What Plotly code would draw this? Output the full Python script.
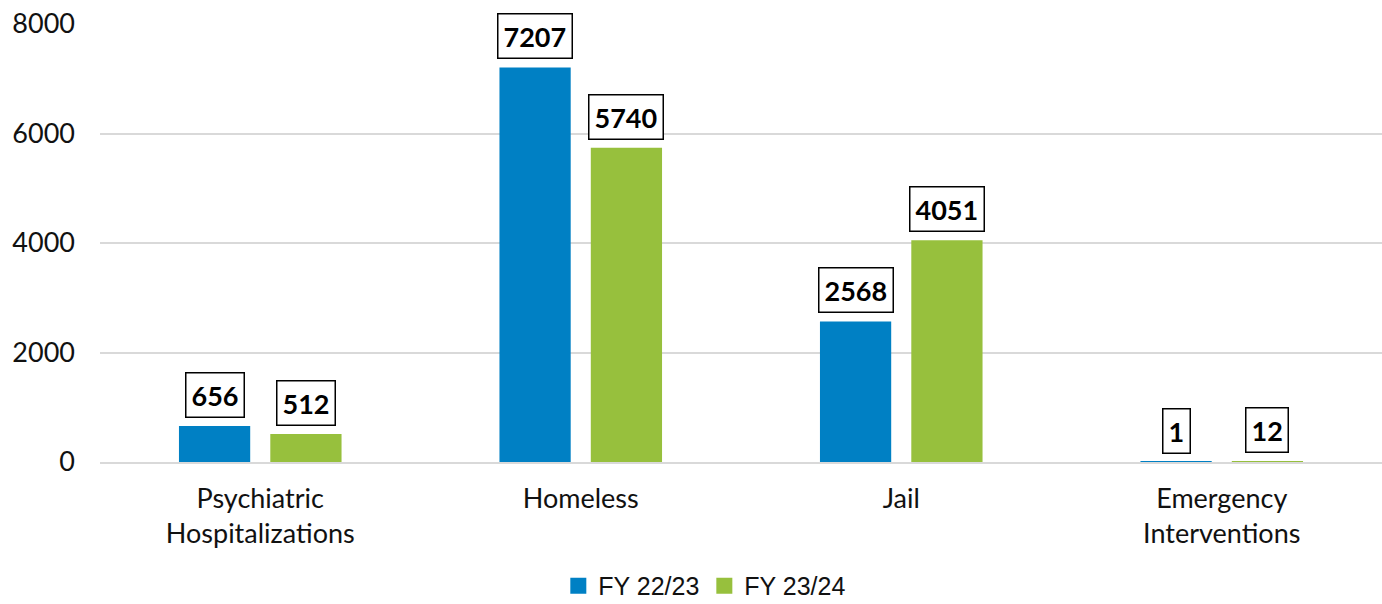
import plotly.graph_objects as go

categories = ["Psychiatric<br>Hospitalizations", "Homeless", "Jail", "Emergency<br>Interventions"]
fy2223 = [656, 7207, 2568, 1]
fy2324 = [512, 5740, 4051, 12]
series_names = ["FY 22/23", "FY 23/24"]
colors = ["#0080C4", "#97C03D"]
y_ticks = [0, 2000, 4000, 6000, 8000]

W, H = 1382, 604
margin = dict(l=100, r=0, t=24, b=142)
bargap = 0.43
plot_w = W - margin["l"] - margin["r"]
cat_w = plot_w / len(categories)
offset_px = cat_w * (1 - bargap) / 4

font_main = "Lato, sans-serif"

fig = go.Figure()
for name, vals, col in zip(series_names, [fy2223, fy2324], colors):
    fig.add_trace(go.Bar(x=categories, y=vals, name=name, marker_color=col,
                         marker_line_width=0, hoverinfo="skip", showlegend=False))
# legend-only entries with larger square markers
for name, col in zip(series_names, colors):
    fig.add_trace(go.Scatter(x=[None], y=[None], mode="markers", name=name,
                             marker=dict(symbol="square", size=19, color=col)))

annotations = []
for sign, vals in zip([-1, 1], [fy2223, fy2324]):
    for c, v in zip(categories, vals):
        annotations.append(dict(
            x=c, y=v, xref="x", yref="y", text=f"<b>{v}</b>", showarrow=False,
            xanchor="center", yanchor="bottom", xshift=sign * offset_px, yshift=8,
            font=dict(family=font_main, size=27, color="black"),
            bordercolor="black", borderwidth=1.5, borderpad=5, bgcolor="white"))

fig.update_layout(
    width=W, height=H, margin=margin,
    paper_bgcolor="white", plot_bgcolor="white",
    barmode="group", bargap=bargap, bargroupgap=0.22,
    annotations=annotations,
    showlegend=True,
    legend=dict(orientation="h", xref="container", yref="container",
                x=0.51, y=0.03, xanchor="center", yanchor="middle",
                font=dict(family="Liberation Sans, Arial, sans-serif", size=25, color="#111"),
                itemsizing="trace", itemwidth=30),
    xaxis=dict(tickfont=dict(family=font_main, size=27, color="#111"),
               showgrid=False, zeroline=False, showline=True, linecolor="#d9d9d9",
               linewidth=1.5, ticks="", ticklabelstandoff=12),
    yaxis=dict(range=[0, 8000], tickvals=y_ticks, showgrid=True, gridcolor="#d9d9d9",
               gridwidth=1.5, zeroline=False, showline=False,
               tickfont=dict(family=font_main, size=27, color="#111"),
               ticklabelstandoff=24),
)

fig.write_html("out.html")
